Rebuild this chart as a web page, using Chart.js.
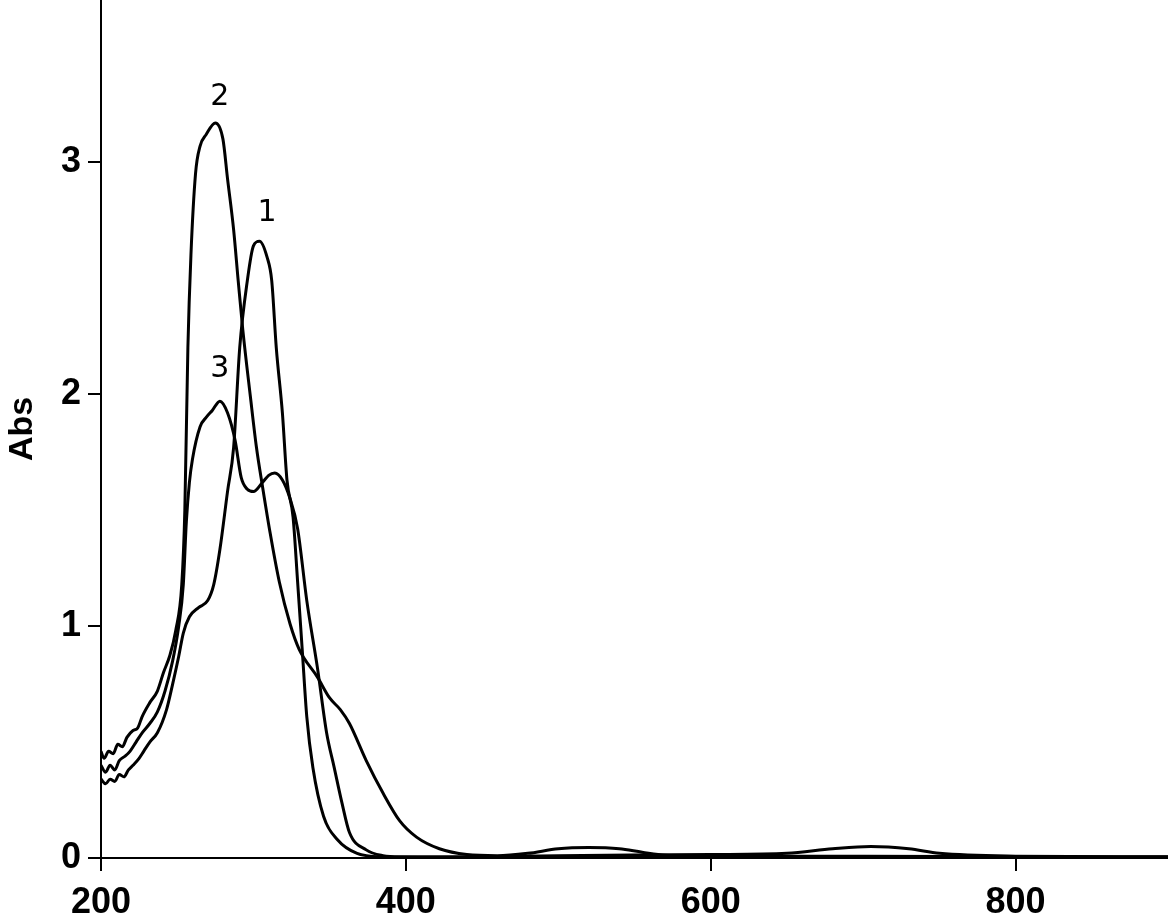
<!DOCTYPE html>
<html>
<head>
<meta charset="utf-8">
<script src="https://cdn.jsdelivr.net/npm/chart.js@4.4.0/dist/chart.umd.min.js"></script>
<style>
  html, body { margin: 0; padding: 0; background: #fff; }
  #wrap { width: 1168px; height: 919px; }
</style>
</head>
<body>
<div id="wrap"><canvas id="myChart" width="1168" height="919"></canvas></div>
<script>
// wavelength (nm) / absorbance
const wl1 = [200, 203, 206, 209, 212, 215, 218, 221, 225, 228, 232, 237, 243, 247, 251, 254, 258, 264, 270, 274, 278, 283, 287, 291, 296, 300, 304, 309, 312, 315, 319, 322, 326, 329, 332, 335, 339, 346, 355, 368, 385, 420, 500, 600, 700, 800, 900];
const abs1 = [0.34, 0.32, 0.34, 0.33, 0.36, 0.35, 0.38, 0.40, 0.43, 0.46, 0.50, 0.54, 0.64, 0.75, 0.87, 0.97, 1.04, 1.08, 1.11, 1.18, 1.33, 1.58, 1.77, 2.2, 2.49, 2.64, 2.66, 2.59, 2.49, 2.2, 1.92, 1.63, 1.47, 1.19, 0.90, 0.61, 0.39, 0.18, 0.08, 0.02, 0.005, 0.002, 0.005, 0.005, 0.005, 0.004, 0.003];

const wl2 = [200, 202, 205, 208, 211, 214, 217, 221, 224, 227, 232, 237, 241, 245, 249, 253, 255, 257, 259, 262, 265, 269, 275, 280, 283, 287, 290, 293, 298, 302, 306, 311, 317, 324, 330, 342, 350, 357, 363, 374, 385, 396, 407, 422, 440, 460, 480, 500, 520, 540, 555, 570, 600, 650, 700, 800, 900];
const abs2 = [0.46, 0.43, 0.46, 0.45, 0.49, 0.48, 0.52, 0.55, 0.56, 0.61, 0.67, 0.72, 0.80, 0.87, 0.98, 1.18, 1.5, 2.2, 2.6, 2.95, 3.07, 3.12, 3.17, 3.10, 2.93, 2.71, 2.49, 2.28, 1.99, 1.77, 1.60, 1.40, 1.19, 1.01, 0.90, 0.78, 0.69, 0.64, 0.58, 0.42, 0.28, 0.16, 0.09, 0.04, 0.015, 0.01, 0.02, 0.04, 0.045, 0.04, 0.025, 0.012, 0.008, 0.008, 0.008, 0.005, 0.004];

const wl3 = [200, 203, 206, 209, 212, 216, 219, 223, 227, 232, 237, 242, 247, 251, 254, 256, 258, 260, 265, 269, 273, 278, 283, 288, 292, 296, 300, 306, 310, 314, 319, 324, 329, 335, 342, 348, 353, 358, 363, 374, 385, 396, 420, 500, 600, 650, 680, 705, 730, 750, 800, 900];
const abs3 = [0.40, 0.37, 0.40, 0.38, 0.42, 0.44, 0.46, 0.50, 0.54, 0.58, 0.63, 0.72, 0.85, 1.0, 1.18, 1.45, 1.62, 1.72, 1.86, 1.90, 1.93, 1.97, 1.92, 1.80, 1.64, 1.59, 1.58, 1.62, 1.65, 1.66, 1.63, 1.55, 1.42, 1.11, 0.82, 0.54, 0.39, 0.24, 0.11, 0.035, 0.01, 0.005, 0.005, 0.01, 0.015, 0.02, 0.04, 0.05, 0.04, 0.02, 0.008, 0.005];

const xTicks = [200, 400, 600, 800];
const yTicks = [0, 1, 2, 3];

// curve numbers written above the peaks
const peakNames = ['1', '2', '3'];
const peakWl = [309, 278, 278];
const peakAbs = [2.78, 3.28, 2.11];

function pts(xs, ys) {
    return xs.map((x, i) => ({x: x, y: ys[i]}));
}

function curve(xs, ys) {
    return {
        data: pts(xs, ys),
        borderColor: '#000',
        borderWidth: 3,
        pointRadius: 0,
        fill: false,
        cubicInterpolationMode: 'monotone'
    };
}

const peakLabels = {
    id: 'peakLabels',
    afterDatasetsDraw(chart) {
        const ctx = chart.ctx;
        const xs = chart.scales.x, ys = chart.scales.y;
        ctx.save();
        ctx.fillStyle = '#000';
        ctx.font = '30px "DejaVu Sans"';
        ctx.textAlign = 'center';
        ctx.textBaseline = 'middle';
        peakNames.forEach((n, i) => {
            ctx.fillText(n, xs.getPixelForValue(peakWl[i]), ys.getPixelForValue(peakAbs[i]));
        });
        ctx.restore();
    }
};

function makeChart() {
    const ctx = document.getElementById('myChart');

    new Chart(ctx, {
        type: 'line',
        data: {
            datasets: [curve(wl1, abs1), curve(wl2, abs2), curve(wl3, abs3)]
        },
        options: {
            responsive: false,
            animation: false,
            devicePixelRatio: 1,
            layout: { padding: 0 },
            plugins: {
                legend: { display: false },
                tooltip: { enabled: false }
            },
            scales: {
                x: {
                    type: 'linear',
                    min: 200,
                    max: 900,
                    afterBuildTicks: (s) => { s.ticks = xTicks.map(v => ({value: v})); },
                    afterFit: (s) => { s.height = 61; s.paddingRight = 0; },
                    border: { display: true, color: '#000', width: 2 },
                    grid: { drawOnChartArea: false, drawTicks: true, tickLength: 13, color: '#000', lineWidth: 2 },
                    ticks: {
                        color: '#000',
                        padding: 10,
                        maxRotation: 0,
                        font: { family: '"Liberation Sans"', size: 36, weight: 'bold' }
                    }
                },
                y: {
                    min: 0,
                    max: 3.7,
                    afterBuildTicks: (s) => { s.ticks = yTicks.map(v => ({value: v})); },
                    afterFit: (s) => { s.width = 101; s.paddingTop = 0; s.paddingBottom = 0; },
                    border: { display: true, color: '#000', width: 2 },
                    grid: { drawOnChartArea: false, drawTicks: true, tickLength: 13, color: '#000', lineWidth: 2 },
                    ticks: {
                        color: '#000',
                        padding: 7,
                        font: { family: '"Liberation Sans"', size: 36, weight: 'bold' }
                    },
                    title: {
                        display: true,
                        text: 'Abs',
                        color: '#000',
                        padding: { top: 2, bottom: 0 },
                        font: { family: '"Liberation Sans"', size: 34, weight: 'bold' }
                    }
                }
            }
        },
        plugins: [peakLabels]
    });
}

makeChart();
</script>
</body>
</html>
